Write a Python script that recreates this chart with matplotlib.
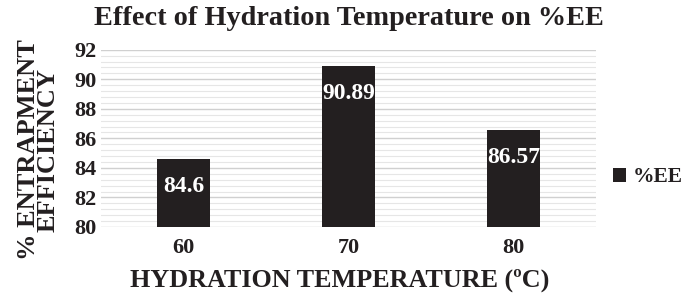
import numpy as np
import matplotlib
matplotlib.use("Agg")
import matplotlib.pyplot as plt
from matplotlib.ticker import MultipleLocator

temps = ["60", "70", "80"]
ee_values = [84.6, 90.89, 86.57]
series_name = "%EE"

plt.rcParams['font.family'] = ['Liberation Serif', 'DejaVu Serif']
plt.rcParams['font.weight'] = 'bold'
ink = '#231f20'

fig = plt.figure(figsize=(6.85, 2.94), dpi=100)
ax = fig.add_axes([0.1474, 0.228, 0.7226, 0.603])

x = np.arange(len(temps))
bars = ax.bar(x, ee_values, width=0.32, color=ink, label=series_name, zorder=3)

ax.set_xlim(-0.5, len(temps) - 0.5)
ax.set_ylim(80, 92)
ax.yaxis.set_major_locator(MultipleLocator(2))
ax.yaxis.set_minor_locator(MultipleLocator(0.4))
ax.grid(axis='y', which='major', color='#d0d0d0', linewidth=1.0, zorder=0)
ax.grid(axis='y', which='minor', color='#e6e6e6', linewidth=0.8, zorder=0)
ax.set_axisbelow(True)

for s in ['top', 'right', 'left', 'bottom']:
    ax.spines[s].set_visible(False)
ax.tick_params(axis='both', which='both', length=0)
ax.tick_params(axis='y', pad=3)
ax.tick_params(axis='x', pad=8)

ax.set_xticks(x)
ax.set_xticklabels(temps, fontsize=16, fontweight='bold', color=ink)
for lab in ax.get_yticklabels():
    lab.set_fontsize(16)
    lab.set_fontweight('bold')
    lab.set_color(ink)

# value labels just inside the bar tops
for b, v in zip(bars, ee_values):
    ax.annotate(f"{v:g}", xy=(b.get_x() + b.get_width() / 2, v),
                xytext=(0, -20), textcoords='offset points',
                ha='center', va='center', color='white',
                fontsize=17, fontweight='bold')

ax.set_title("Effect of Hydration Temperature on %EE", fontsize=20.3,
             fontweight='bold', color=ink, pad=18)
ax.set_xlabel("HYDRATION TEMPERATURE (ºC)", fontsize=18.8, fontweight='bold',
              color=ink)
ax.set_ylabel("% ENTRAPMENT\nEFFICIENCY", fontsize=19, fontweight='bold',
              color=ink, linespacing=0.8)
ax.xaxis.label.set_va('center')
ax.yaxis.label.set_va('center')
ax.yaxis.set_label_coords(-0.126, 0.434)
ax.xaxis.set_label_coords(0.483, -0.3)

leg = ax.legend(loc='center left', bbox_to_anchor=(1.034, 0.28), frameon=False,
                prop={'size': 15.5, 'weight': 'bold'}, handlelength=0.6,
                handleheight=0.6, handletextpad=0.35, borderpad=0,
                borderaxespad=0)
for t in leg.get_texts():
    t.set_color(ink)

fig.savefig("out.png", dpi=100)
